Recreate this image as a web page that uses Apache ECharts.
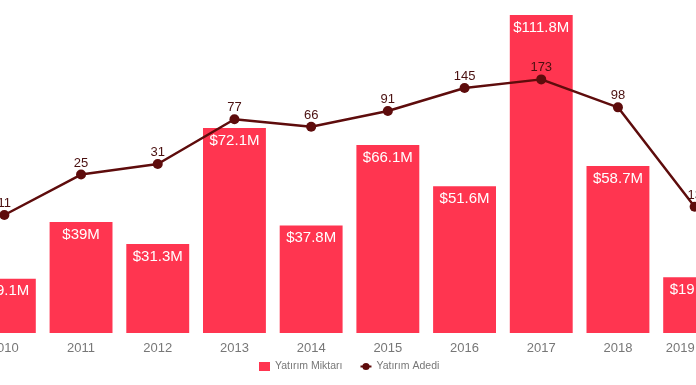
<!DOCTYPE html>
<html>
<head>
<meta charset="utf-8">
<script src="https://cdn.jsdelivr.net/npm/echarts@6/dist/echarts.min.js"></script>
<style>html,body{margin:0;padding:0;background:#fff;overflow:hidden;width:696px;height:385px}#c{position:absolute;left:-34px;top:0;width:767px;height:385px}</style>
</head>
<body>
<div id="c"></div>
<script>
const years = ['2010','2011','2012','2013','2014','2015','2016','2017','2018','2019'];
const amounts = [19.1, 39, 31.3, 72.1, 37.8, 66.1, 51.6, 111.8, 58.7, 19.6];
const counts = [11, 25, 31, 77, 66, 91, 145, 173, 98, 13];
const seriesNames = ['Yatırım Miktarı', 'Yatırım Adedi'];

const chart = echarts.init(document.getElementById('c'));
const font = '"Liberation Sans", Arial, Helvetica, sans-serif';
chart.setOption({
  animation: false,
  textStyle: { fontFamily: font },
  grid: { left: 0, right: 0, top: 15, bottom: 52, containLabel: false },
  legend: {
    bottom: 8,
    left: 288,
    itemWidth: 11,
    itemHeight: 9,
    itemGap: 17,
    textStyle: { color: '#777', fontSize: 10.5, fontFamily: font },
    data: [
      { name: seriesNames[0], icon: 'rect', itemStyle: { color: '#ff3550' } },
      { name: seriesNames[1] }
    ]
  },
  xAxis: {
    type: 'category',
    data: years,
    axisLine: { show: false },
    axisTick: { show: false },
    axisLabel: { color: '#777', fontSize: 13, margin: 9, fontFamily: font, alignMaxLabel: 'right' }
  },
  yAxis: [
    { type: 'value', min: 0, max: 111.8, show: false },
    { type: 'log', logBase: 10, min: 1, max: 640, show: false }
  ],
  series: [
    {
      name: seriesNames[0],
      type: 'bar',
      data: amounts,
      barCategoryGap: '18%',
      itemStyle: { color: '#ff3550' },
      label: {
        show: true,
        position: 'insideTop',
        distance: 5,
        color: '#fff',
        fontSize: 15,
        fontFamily: font,
        formatter: p => '$' + p.value + 'M'
      }
    },
    {
      name: seriesNames[1],
      type: 'line',
      yAxisIndex: 1,
      data: counts,
      symbol: 'circle',
      symbolSize: 10,
      lineStyle: { color: '#5e0c0c', width: 2.5 },
      itemStyle: { color: '#5e0c0c' },
      label: {
        show: true,
        position: 'top',
        distance: 0,
        color: '#4a1010',
        fontSize: 13,
        fontFamily: font
      },
      z: 5
    }
  ]
});
</script>
</body>
</html>
